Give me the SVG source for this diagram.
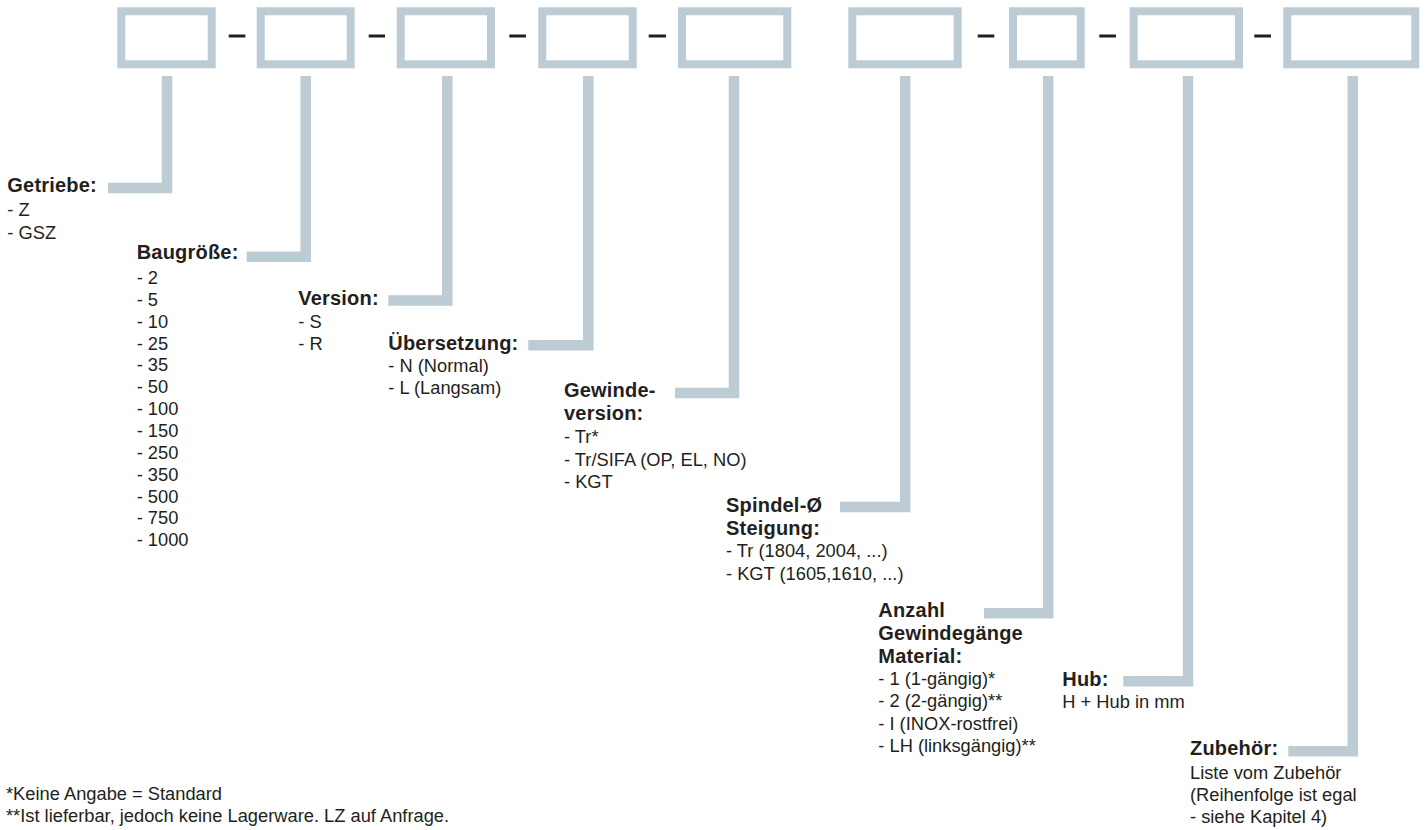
<svg xmlns="http://www.w3.org/2000/svg" width="1427" height="830" viewBox="0 0 1427 830">
<style>
.box{fill:none;stroke:#bccbd4;stroke-width:8}
.sep{fill:#231f20}
.con{fill:none;stroke:#bccbd4;stroke-width:10.5;stroke-linejoin:miter;stroke-linecap:butt}
text{font-family:"Liberation Sans",Arial,sans-serif;fill:#231f20}
.h{font-size:20px;font-weight:bold;letter-spacing:0.2px}
.b{font-size:18.3px}
</style>
<rect width="1427" height="830" fill="#ffffff"/>
<g id="boxes">
<g id="box1"><rect class="box" x="121.3" y="11.3" width="90.4" height="53"/></g>
<g id="box2"><rect class="box" x="260.7" y="11.3" width="90" height="53"/></g>
<g id="box3"><rect class="box" x="400.7" y="11.3" width="90.3" height="53"/></g>
<g id="box4"><rect class="box" x="542.3" y="11.3" width="90.4" height="53"/></g>
<g id="box5"><rect class="box" x="682" y="11.3" width="105.3" height="53"/></g>
<g id="box6"><rect class="box" x="852.3" y="11.3" width="105.4" height="53"/></g>
<g id="box7"><rect class="box" x="1013" y="11.3" width="67.7" height="53"/></g>
<g id="box8"><rect class="box" x="1133.7" y="11.3" width="105.3" height="53"/></g>
<g id="box9"><rect class="box" x="1287.3" y="11.3" width="128" height="53"/></g>
</g>
<g id="separators">
<rect class="sep" x="228.7" y="34.5" width="16.6" height="3"/>
<rect class="sep" x="368.7" y="34.5" width="16.3" height="3"/>
<rect class="sep" x="509.3" y="34.5" width="16.7" height="3"/>
<rect class="sep" x="648.7" y="34.5" width="17.3" height="3"/>
<rect class="sep" x="977.7" y="34.5" width="16.6" height="3"/>
<rect class="sep" x="1099.3" y="34.5" width="16.7" height="3"/>
<rect class="sep" x="1254.3" y="34.5" width="16.7" height="3"/>
</g>
<g id="connectors">
<path class="con" d="M108,188 H167 V76"/>
<path class="con" d="M246.7,256.8 H305.7 V76"/>
<path class="con" d="M388.3,300.5 H447.3 V76"/>
<path class="con" d="M528.3,345.3 H588.3 V76"/>
<path class="con" d="M675,393 H734 V76"/>
<path class="con" d="M840,507 H905.2 V76"/>
<path class="con" d="M984,613.3 H1048.2 V76"/>
<path class="con" d="M1123.3,681.3 H1188 V76"/>
<path class="con" d="M1288.3,751.3 H1352.8 V76"/>
</g>
<g id="label-getriebe">
<text class="h" x="7.3" y="192">Getriebe:</text>
<text class="b" x="7.3" y="216">- Z</text>
<text class="b" x="7.3" y="238.5">- GSZ</text>
</g>
<g id="label-baugroesse">
<text class="h" x="136.7" y="259">Baugröße:</text>
<text class="b" x="136.7" y="284">- 2</text>
<text class="b" x="136.7" y="305.8">- 5</text>
<text class="b" x="136.7" y="327.7">- 10</text>
<text class="b" x="136.7" y="349.5">- 25</text>
<text class="b" x="136.7" y="371.4">- 35</text>
<text class="b" x="136.7" y="393.2">- 50</text>
<text class="b" x="136.7" y="415.1">- 100</text>
<text class="b" x="136.7" y="437">- 150</text>
<text class="b" x="136.7" y="458.8">- 250</text>
<text class="b" x="136.7" y="480.6">- 350</text>
<text class="b" x="136.7" y="502.5">- 500</text>
<text class="b" x="136.7" y="524.3">- 750</text>
<text class="b" x="136.7" y="546.2">- 1000</text>
</g>
<g id="label-version">
<text class="h" x="298.3" y="305">Version:</text>
<text class="b" x="298.3" y="328">- S</text>
<text class="b" x="298.3" y="350">- R</text>
</g>
<g id="label-uebersetzung">
<text class="h" x="388.3" y="350">Übersetzung:</text>
<text class="b" x="388.3" y="372">- N (Normal)</text>
<text class="b" x="388.3" y="394">- L (Langsam)</text>
</g>
<g id="label-gewindeversion">
<text class="h" x="564" y="397">Gewinde-</text>
<text class="h" x="564" y="420">version:</text>
<text class="b" x="564" y="443">- Tr*</text>
<text class="b" x="564" y="465.5">- Tr/SIFA (OP, EL, NO)</text>
<text class="b" x="564" y="488">- KGT</text>
</g>
<g id="label-spindel">
<text class="h" x="726" y="512">Spindel-Ø</text>
<text class="h" x="726" y="534.5">Steigung:</text>
<text class="b" x="726" y="557">- Tr (1804, 2004, ...)</text>
<text class="b" x="726" y="579.5">- KGT (1605,1610, ...)</text>
</g>
<g id="label-anzahl">
<text class="h" x="878.3" y="617">Anzahl</text>
<text class="h" x="878.3" y="640">Gewindegänge</text>
<text class="h" x="878.3" y="663">Material:</text>
<text class="b" x="878.3" y="685">- 1 (1-gängig)*</text>
<text class="b" x="878.3" y="707.3">- 2 (2-gängig)**</text>
<text class="b" x="878.3" y="729.5">- I (INOX-rostfrei)</text>
<text class="b" x="878.3" y="751.7">- LH (linksgängig)**</text>
</g>
<g id="label-hub">
<text class="h" x="1062.3" y="686">Hub:</text>
<text class="b" x="1062.3" y="708">H + Hub in mm</text>
</g>
<g id="label-zubehoer">
<text class="h" x="1190" y="755">Zubehör:</text>
<text class="b" x="1190" y="779">Liste vom Zubehör</text>
<text class="b" x="1190" y="801">(Reihenfolge ist egal</text>
<text class="b" x="1190" y="823">- siehe Kapitel 4)</text>
</g>
<g id="footnotes">
<text class="b" x="6" y="800.3">*Keine Angabe = Standard</text>
<text class="b" x="6" y="821.7">**Ist lieferbar, jedoch keine Lagerware. LZ auf Anfrage.</text>
</g>
</svg>
